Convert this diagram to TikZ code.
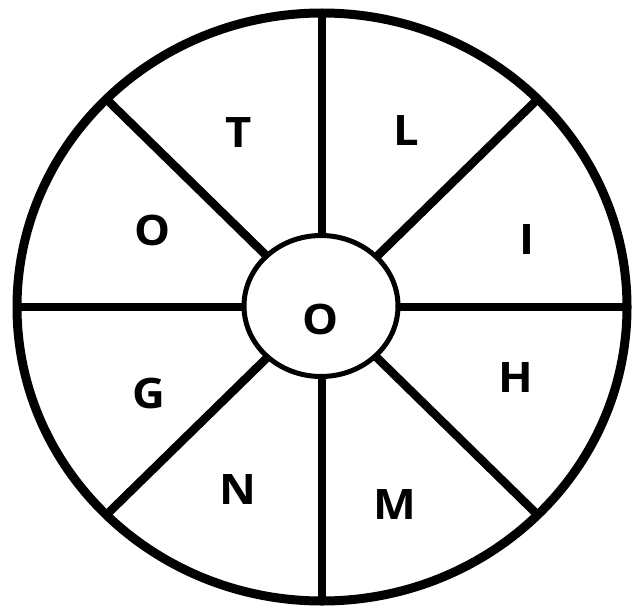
\documentclass[tikz,border=0pt]{standalone}
\usepackage{fontspec}
\setmainfont{Open Sans}
\newcommand{\wideletter}[1]{\scalebox{1.08}[1]{#1}}
\begin{document}
\begin{tikzpicture}[x=1pt,y=-1pt,
  spoke/.style={line width=8.5pt},
  rim/.style={line width=9pt},
  hub/.style={line width=5pt},
  letter/.style={font=\fontsize{42}{46}\selectfont\bfseries, inner sep=0pt}]
\useasboundingbox (0,0) rectangle (636,607);
\fill[white] (0,0) rectangle (636,607);
\foreach \a in {0,45,...,315}
  \draw[spoke] ({322+76*cos(\a)},{307+70*sin(\a)}) -- ({322+305*cos(\a)},{307+294*sin(\a)});
\draw[rim] (322,307) ellipse [x radius=305, y radius=294];
\draw[hub] (321,306) ellipse [x radius=77, y radius=70.5];
\node[letter] (t) at (239,133) {\wideletter{T}};
\node[letter] (l) at (406,131) {\wideletter{L}};
\node[letter] (o1) at (153,230) {\wideletter{O}};
\node[letter] (i) at (527,240) {\wideletter{I}};
\node[letter] (o2) at (321,319) {\wideletter{O}};
\node[letter] (g) at (149,393) {\wideletter{G}};
\node[letter] (h) at (516,378) {\wideletter{H}};
\node[letter] (n) at (238,490) {\wideletter{N}};
\node[letter] (m) at (395,505) {\wideletter{M}};
\end{tikzpicture}
\end{document}
